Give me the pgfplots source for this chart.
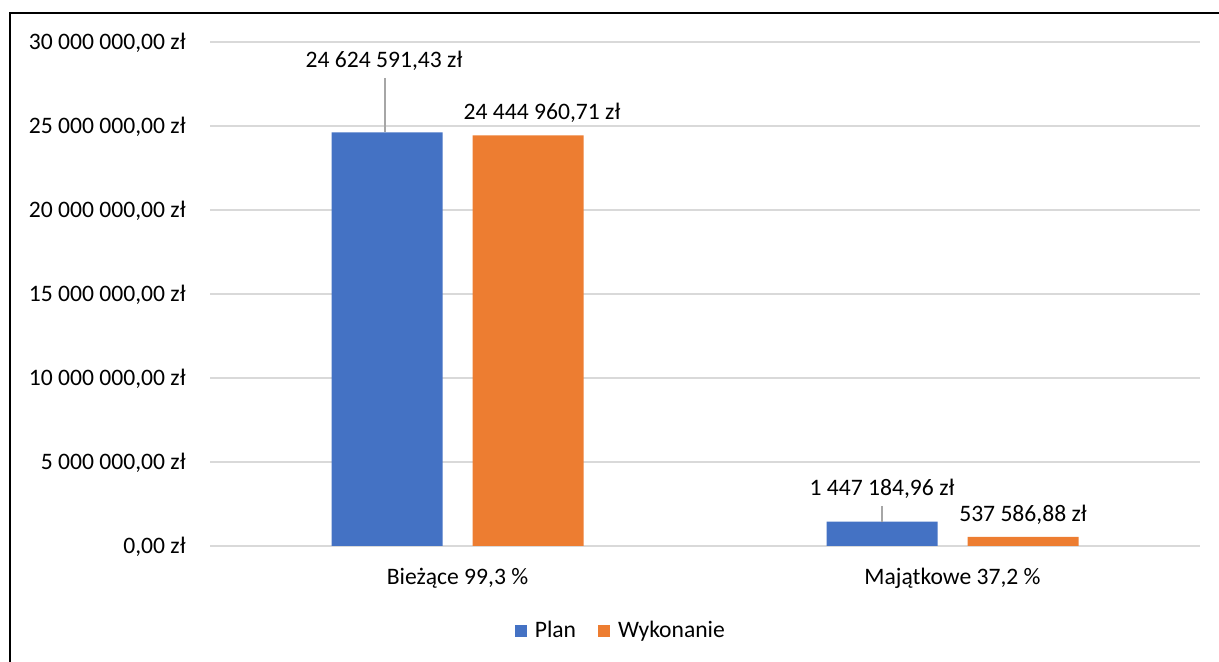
\documentclass[border=0pt]{standalone}
\usepackage{pgfplots}
\pgfplotsset{compat=1.18}
\usepackage{fontspec}
\setmainfont{Carlito}
\definecolor{cblue}{HTML}{4472C4}
\definecolor{corange}{HTML}{ED7D31}
\definecolor{cgrid}{HTML}{D9D9D9}
\definecolor{cleader}{HTML}{A6A6A6}
\begin{document}
\begin{tikzpicture}[x=1pt,y=1pt]
\useasboundingbox (0,0) rectangle (609.5,331);
\draw[line width=1pt] (5,-2) -- (5,324.5) -- (612,324.5);
\begin{axis}[
  at={(105pt,58pt)}, anchor=south west,
  scale only axis, width=495pt, height=252pt,
  ybar=15pt, bar width=55.5pt,
  xmin=-0.5, xmax=1.5, ymin=0, ymax=30000000,
  xtick={0,1},
  xticklabels={{Bieżące 99,3 \%},{Majątkowe 37,2 \%}},
  xticklabel style={anchor=base, inner sep=0pt, yshift=-19.5pt},
  ytick={0,5000000,10000000,15000000,20000000,25000000,30000000},
  yticklabels={{0,00 zł},{5 000 000,00 zł},{10 000 000,00 zł},{15 000 000,00 zł},{20 000 000,00 zł},{25 000 000,00 zł},{30 000 000,00 zł}},
  yticklabel style={anchor=base east, inner sep=0pt, xshift=-12pt, yshift=-3.7pt},
  scaled y ticks=false,
  axis line style={draw=none},
  major tick length=0pt,
  ymajorgrids, grid style={cgrid, line width=0.6pt},
  font=\fontsize{11.8}{14}\selectfont,
  tick label style={font=\fontsize{11.8}{14}\selectfont},
  clip=false,
  legend style={at={(axis description cs:0.416,-0.169)}, anchor=center, draw=none,
    font=\fontsize{11.8}{14}\selectfont,
    /tikz/every odd column/.append style={column sep=2pt},
    /tikz/every even column/.append style={column sep=9pt}},
  legend columns=2,
  legend image code/.code={\fill[#1] (0pt,-3pt) rectangle (6pt,3pt);},
]
\addplot[fill=cblue, draw=none] coordinates {(0,24624591.43) (1,1447184.96)};
\addplot[fill=corange, draw=none] coordinates {(0,24444960.71) (1,537586.88)};
\legend{Plan, Wykonanie}
\draw[cleader, line width=0.6pt] (axis cs:-0.1465,27857000) -- (axis cs:-0.1465,24624591.43);
\draw[cleader, line width=0.6pt] (axis cs:0.8576,2381000) -- (axis cs:0.8576,1447184.96);
\node[anchor=base, inner sep=0pt] at (axis cs:-0.1485,28510000) {24 624 591,43 zł};
\node[anchor=base, inner sep=0pt] at (axis cs:0.1707,25357000) {24 444 960,71 zł};
\node[anchor=base, inner sep=0pt] at (axis cs:0.8576,2976000) {1 447 184,96 zł};
\node[anchor=base, inner sep=0pt] at (axis cs:1.1424,1428600) {537 586,88 zł};
\end{axis}
\end{tikzpicture}
\end{document}
